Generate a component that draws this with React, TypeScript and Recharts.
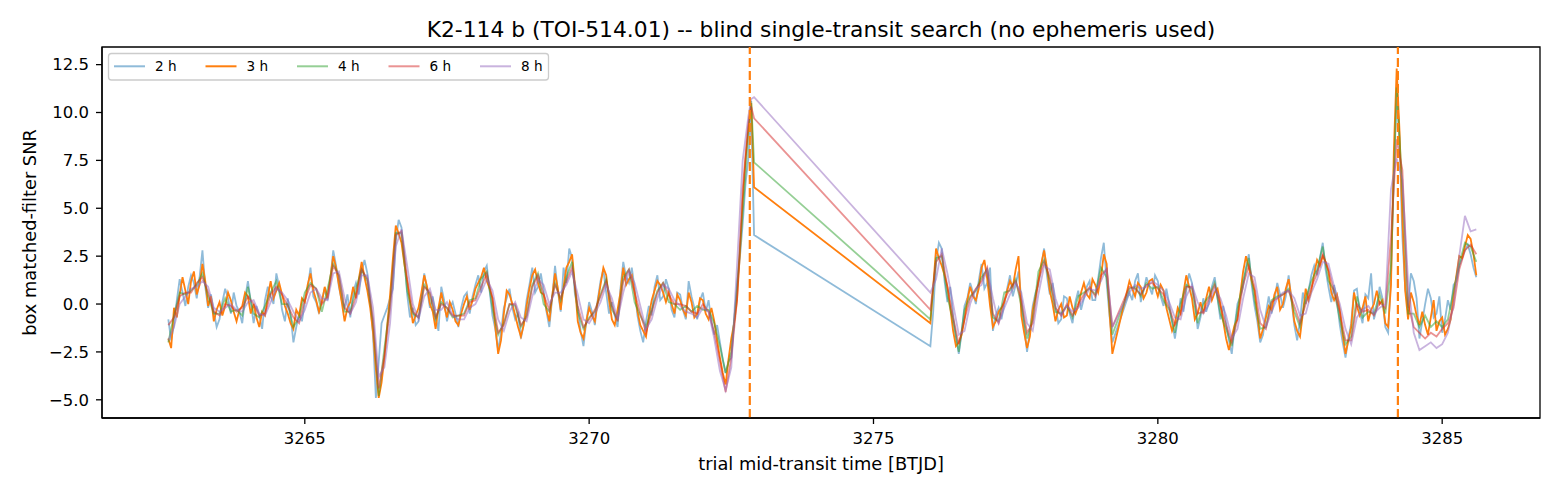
import React from 'react'
import { LineChart, Line, XAxis, YAxis, ReferenceLine, ReferenceArea } from 'recharts'

// 0.1 d grid used by the 4 h, 6 h and 8 h searches (gaps 3272.9-3276.0 and 3279.2-3279.5)
const times = [
  3262.6, 3262.7, 3262.8, 3262.9, 3263.0, 3263.1, 3263.2, 3263.3, 3263.4, 3263.5,
  3263.6, 3263.7, 3263.8, 3263.9, 3264.0, 3264.1, 3264.2, 3264.3, 3264.4, 3264.5,
  3264.6, 3264.7, 3264.8, 3264.9, 3265.0, 3265.1, 3265.2, 3265.3, 3265.4, 3265.5,
  3265.6, 3265.7, 3265.8, 3265.9, 3266.0, 3266.1, 3266.2, 3266.3, 3266.4, 3266.5,
  3266.6, 3266.7, 3266.8, 3266.9, 3267.0, 3267.1, 3267.2, 3267.3, 3267.4, 3267.5,
  3267.6, 3267.7, 3267.8, 3267.9, 3268.0, 3268.1, 3268.2, 3268.3, 3268.4, 3268.5,
  3268.6, 3268.7, 3268.8, 3268.9, 3269.0, 3269.1, 3269.2, 3269.3, 3269.4, 3269.5,
  3269.6, 3269.7, 3269.8, 3269.9, 3270.0, 3270.1, 3270.2, 3270.3, 3270.4, 3270.5,
  3270.6, 3270.7, 3270.8, 3270.9, 3271.0, 3271.1, 3271.2, 3271.3, 3271.4, 3271.5,
  3271.6, 3271.7, 3271.8, 3271.9, 3272.0, 3272.1, 3272.2, 3272.3, 3272.4, 3272.5,
  3272.6, 3272.7, 3272.8, 3272.85, 3272.9,
  3276.0, 3276.1, 3276.2, 3276.3, 3276.4, 3276.5, 3276.6, 3276.7, 3276.8, 3276.9,
  3277.0, 3277.1, 3277.2, 3277.3, 3277.4, 3277.5, 3277.6, 3277.7, 3277.8, 3277.9,
  3278.0, 3278.1, 3278.2, 3278.3, 3278.4, 3278.5, 3278.6, 3278.7, 3278.8, 3278.9,
  3279.0, 3279.1, 3279.2,
  3279.5, 3279.6, 3279.7, 3279.8, 3279.9, 3280.0, 3280.1, 3280.2, 3280.3, 3280.4,
  3280.5, 3280.6, 3280.7, 3280.8, 3280.9, 3281.0, 3281.1, 3281.2, 3281.3, 3281.4,
  3281.5, 3281.6, 3281.7, 3281.8, 3281.9, 3282.0, 3282.1, 3282.2, 3282.3, 3282.4,
  3282.5, 3282.6, 3282.7, 3282.8, 3282.9, 3283.0, 3283.1, 3283.2, 3283.3, 3283.4,
  3283.5, 3283.6, 3283.7, 3283.8, 3283.9, 3284.0, 3284.1, 3284.2, 3284.3, 3284.4,
  3284.5, 3284.6, 3284.7, 3284.8, 3284.9, 3285.0, 3285.1, 3285.2, 3285.3, 3285.4, 3285.5, 3285.6,
]

// 0.05 d grid used by the short (2 h, 3 h) searches
const timesFine = [
  3262.6, 3262.65, 3262.7, 3262.75, 3262.8, 3262.85, 3262.9, 3262.95, 3263.0, 3263.05, 3263.1, 3263.15, 3263.2, 3263.25, 3263.3, 3263.35, 3263.4, 3263.45, 3263.5, 3263.55,
  3263.6, 3263.65, 3263.7, 3263.75, 3263.8, 3263.85, 3263.9, 3263.95, 3264.0, 3264.05, 3264.1, 3264.15, 3264.2, 3264.25, 3264.3, 3264.35, 3264.4, 3264.45, 3264.5, 3264.55,
  3264.6, 3264.65, 3264.7, 3264.75, 3264.8, 3264.85, 3264.9, 3264.95, 3265.0, 3265.05, 3265.1, 3265.15, 3265.2, 3265.25, 3265.3, 3265.35, 3265.4, 3265.45, 3265.5, 3265.55,
  3265.6, 3265.65, 3265.7, 3265.75, 3265.8, 3265.85, 3265.9, 3265.95, 3266.0, 3266.05, 3266.1, 3266.15, 3266.2, 3266.25, 3266.3, 3266.35, 3266.4, 3266.45, 3266.5, 3266.55,
  3266.6, 3266.65, 3266.7, 3266.75, 3266.8, 3266.85, 3266.9, 3266.95, 3267.0, 3267.05, 3267.1, 3267.15, 3267.2, 3267.25, 3267.3, 3267.35, 3267.4, 3267.45, 3267.5, 3267.55,
  3267.6, 3267.65, 3267.7, 3267.75, 3267.8, 3267.85, 3267.9, 3267.95, 3268.0, 3268.05, 3268.1, 3268.15, 3268.2, 3268.25, 3268.3, 3268.35, 3268.4, 3268.45, 3268.5, 3268.55,
  3268.6, 3268.65, 3268.7, 3268.75, 3268.8, 3268.85, 3268.9, 3268.95, 3269.0, 3269.05, 3269.1, 3269.15, 3269.2, 3269.25, 3269.3, 3269.35, 3269.4, 3269.45, 3269.5, 3269.55,
  3269.6, 3269.65, 3269.7, 3269.75, 3269.8, 3269.85, 3269.9, 3269.95, 3270.0, 3270.05, 3270.1, 3270.15, 3270.2, 3270.25, 3270.3, 3270.35, 3270.4, 3270.45, 3270.5, 3270.55,
  3270.6, 3270.65, 3270.7, 3270.75, 3270.8, 3270.85, 3270.9, 3270.95, 3271.0, 3271.05, 3271.1, 3271.15, 3271.2, 3271.25, 3271.3, 3271.35, 3271.4, 3271.45, 3271.5, 3271.55,
  3271.6, 3271.65, 3271.7, 3271.75, 3271.8, 3271.85, 3271.9, 3271.95, 3272.0, 3272.05, 3272.1, 3272.15, 3272.2, 3272.25, 3272.3, 3272.35, 3272.4, 3272.45, 3272.5, 3272.55,
  3272.6, 3272.65, 3272.7, 3272.75, 3272.8, 3272.85, 3272.9,
  3276.0, 3276.05, 3276.1, 3276.15, 3276.2, 3276.25, 3276.3, 3276.35, 3276.4, 3276.45, 3276.5, 3276.55, 3276.6, 3276.65, 3276.7, 3276.75, 3276.8, 3276.85, 3276.9, 3276.95,
  3277.0, 3277.05, 3277.1, 3277.15, 3277.2, 3277.25, 3277.3, 3277.35, 3277.4, 3277.45, 3277.5, 3277.55, 3277.6, 3277.65, 3277.7, 3277.75, 3277.8, 3277.85, 3277.9, 3277.95,
  3278.0, 3278.05, 3278.1, 3278.15, 3278.2, 3278.25, 3278.3, 3278.35, 3278.4, 3278.45, 3278.5, 3278.55, 3278.6, 3278.65, 3278.7, 3278.75, 3278.8, 3278.85, 3278.9, 3278.95,
  3279.0, 3279.05, 3279.1, 3279.15, 3279.2,
  3279.5, 3279.55, 3279.6, 3279.65, 3279.7, 3279.75, 3279.8, 3279.85, 3279.9, 3279.95, 3280.0, 3280.05, 3280.1, 3280.15, 3280.2, 3280.25, 3280.3, 3280.35, 3280.4, 3280.45,
  3280.5, 3280.55, 3280.6, 3280.65, 3280.7, 3280.75, 3280.8, 3280.85, 3280.9, 3280.95, 3281.0, 3281.05, 3281.1, 3281.15, 3281.2, 3281.25, 3281.3, 3281.35, 3281.4, 3281.45,
  3281.5, 3281.55, 3281.6, 3281.65, 3281.7, 3281.75, 3281.8, 3281.85, 3281.9, 3281.95, 3282.0, 3282.05, 3282.1, 3282.15, 3282.2, 3282.25, 3282.3, 3282.35, 3282.4, 3282.45,
  3282.5, 3282.55, 3282.6, 3282.65, 3282.7, 3282.75, 3282.8, 3282.85, 3282.9, 3282.95, 3283.0, 3283.05, 3283.1, 3283.15, 3283.2, 3283.25, 3283.3, 3283.35, 3283.4, 3283.45,
  3283.5, 3283.55, 3283.6, 3283.65, 3283.7, 3283.75, 3283.8, 3283.85, 3283.9, 3283.95, 3284.0, 3284.05, 3284.1, 3284.15, 3284.2, 3284.25, 3284.3, 3284.35, 3284.4, 3284.45,
  3284.5, 3284.55, 3284.6, 3284.65, 3284.7, 3284.75, 3284.8, 3284.85, 3284.9, 3284.95, 3285.0, 3285.05, 3285.1, 3285.15, 3285.2, 3285.25, 3285.3, 3285.35, 3285.4, 3285.45, 3285.5, 3285.55, 3285.6,
]

const snr2h = [
  -0.8, -1.9, -1.1, 0.2, 1.3, 0.6, -0.1, 0.9, 1.5, 1.1, 0.3, 1.4, 2.8, 0.9, -0.2, 0.5, -0.4, -1.2, -0.8, 0.1,
  0.8, 0.3, -0.5, 0.6, -0.1, -0.4, -1.0, 0.3, 1.2, 0.1, -1.0, -0.1, -0.6, -1.3, 0.2, 0.9, 0.4, 0.0, 1.6, 0.9,
  -0.3, -0.9, 0.3, -0.6, -2.0, -1.2, -0.5, -0.9, 0.1, 0.8, 1.9, 0.4, 0.1, -0.5, 0.2, 0.8, 0.2, 1.3, 2.8, 2.0,
  0.9, 0.2, -0.2, 0.5, -0.7, 0.6, 1.1, 0.5, 1.7, 2.3, 1.6, 0.2, -1.6, -4.9, -3.0, -1.0, -0.6, -0.2, 0.3, 0.8,
  3.3, 4.4, 4.0, 2.5, 0.5, -0.7, -0.2, -1.1, -0.9, 0.2, 1.6, 0.8, -0.2, 0.4, -0.6, -1.4, 0.9, 0.2, -0.9, -0.2,
  0.1, -0.5, -1.2, -0.2, 0.4, 0.6, -0.5, 0.4, 1.0, 1.5, 0.6, 1.7, 2.0, 0.7, -0.6, -1.3, -2.4, -1.5, -0.2, 0.3,
  0.8, -0.2, -0.8, -0.5, -1.8, -1.0, 0.2, 1.0, 1.9, 0.6, 0.9, 1.6, 0.7, -0.4, -1.2, 0.3, 2.0, 0.7, -0.4, 1.9,
  1.1, 2.9, 2.4, 0.5, -0.2, -1.4, -2.2, -0.9, 0.1, -0.4, -1.1, 0.2, 1.2, 1.8, 0.6, -0.5, 0.1, -0.6, -1.2, 0.8,
  2.2, 1.4, 1.1, 1.9, 0.8, -0.6, -1.4, -2.0, -0.9, -0.1, -0.6, 0.9, 1.5, 0.2, 0.4, 1.3, 0.8, -0.3, -0.7, 0.6,
  0.5, -0.3, -0.8, 1.2, 0.4, -0.2, -0.8, 0.2, 0.6, -0.4, 0.2, -0.9, -1.6, -1.1, -2.0, -2.9, -3.6, -3.0, -2.8, -0.9,
  1.0, 2.4, 4.2, 6.3, 7.6, 10.0, 3.6,
  -2.2, -0.4, 2.2, 3.2, 2.9, 1.2, 0.1, 0.9, -0.6, -1.7, -2.6, -1.5, -0.1, 0.3, 1.1, 0.6, 0.0, 1.2, 2.1, 0.8,
  1.1, 1.9, -1.4, -0.6, -0.2, -0.8, 0.0, 0.8, 1.5, 0.4, 1.0, 1.7, 0.3, -1.2, -2.5, -1.4, -0.1, 0.6, 1.0, 2.0,
  2.9, 1.5, 0.5, 1.1, -0.1, -1.0, -0.8, 0.4, 0.3, -0.5, -1.0, 0.1, 0.7, -0.3, 0.3, 0.9, 1.2, 0.2, 0.2, 1.3,
  2.4, 3.2, 1.1, -0.6, -2.0,
  0.6, 0.2, 1.2, 1.6, 0.1, 0.7, 1.4, 0.9, 0.5, 1.5, 1.2, 0.4, -0.1, 0.8, 0.0, -0.9, -1.8, -0.8, 0.3, -0.4,
  0.7, 1.6, 1.1, 0.2, -1.3, -0.7, 0.3, -0.4, 0.1, 0.9, 1.4, 0.3, -0.8, -0.1, -1.0, -1.9, -2.6, -1.2, 0.0, 0.4,
  0.9, 1.9, 2.6, 1.0, -0.1, -0.9, -2.0, -1.6, -0.5, 0.4, -0.5, 0.2, 1.1, 0.5, -0.2, 0.4, 1.5, 0.2, -1.1, -1.9,
  -0.9, 0.6, 0.0, 0.7, 1.5, 2.0, 1.5, 2.4, 3.2, 1.8, 0.9, 0.1, 1.0, 0.2, -1.1, -2.0, -2.8, -1.8, -1.0, 0.7,
  0.8, -0.4, -1.0, 0.5, 0.3, 1.6, -0.8, -0.2, 0.9, 0.3, -1.2, -1.5, 1.5, 7.0, 11.0, 8.5, 3.5, 0.8, -0.2, 1.6,
  1.2, 0.3, -1.8, -0.9, 0.0, 0.8, 0.3, -0.7, -0.5, 0.4, -1.5, -0.8, 0.2, -0.3, 1.0, 1.2, 2.0, 2.4, 2.8, 3.1, 2.6, 1.9, 1.4,
]

const snr3h = [
  -1.8, -2.3, -0.2, -0.7, 0.5, 1.4, 0.7, 0.0, 1.2, 1.7, 0.5, 1.0, 2.1, 1.2, -0.1, 0.4, -0.9, -0.3, 0.1, -0.6,
  -0.1, 0.6, 0.2, -0.4, -0.9, -0.3, -0.1, 0.6, 0.4, -0.5, 0.0, -0.7, -1.2, -0.4, -0.6, 0.4, 1.2, 0.3, 0.7, 1.1,
  0.5, -0.1, -0.5, -1.0, -1.3, -0.3, -0.6, 0.3, 0.1, 1.0, 1.6, 0.7, 0.2, -0.4, 0.1, 0.9, 0.3, 1.4, 2.5, 1.9,
  1.0, 0.1, -0.9, -0.2, 0.1, 0.9, 0.3, 1.3, 2.2, 1.4, 0.7, -0.2, -1.5, -3.4, -4.9, -4.1, -2.8, -1.1, 0.5, 2.4,
  4.1, 3.7, 3.2, 2.1, 1.2, 0.1, -1.0, -0.6, -0.2, 0.6, 1.5, 0.9, 0.0, -0.4, -1.3, -0.2, 0.6, -0.1, -0.7, 0.1,
  -0.3, -0.9, -1.1, -0.5, 0.0, 0.4, -0.3, 0.2, 0.8, 1.1, 1.4, 1.9, 1.2, 0.8, 0.3, -1.2, -2.6, -1.9, -0.5, 0.7,
  0.5, 0.0, -0.6, -1.2, -1.7, -1.1, -0.1, 0.8, 1.5, 1.8, 1.1, 0.6, 0.5, -0.3, -0.9, 0.4, 1.6, 0.8, -0.3, 0.9,
  1.9, 2.2, 2.6, 1.0, -0.9, -1.5, -1.8, -0.9, -0.2, -0.6, -0.9, 0.1, 1.0, 1.9, 1.5, 0.2, -0.8, -1.1, -0.3, 0.6,
  1.9, 1.0, 1.3, 1.5, 0.6, -0.4, -1.1, -1.4, -1.7, -0.6, 0.2, 0.7, 1.2, 1.0, 0.6, 0.1, 0.6, 0.0, -0.5, 0.5,
  0.2, -0.3, -0.6, 0.6, 0.1, -0.7, -0.5, 0.3, 0.2, -0.5, -0.8, -0.2, -0.9, -1.9, -2.8, -3.6, -4.2, -2.9, -1.8, -1.0,
  0.2, 2.6, 5.4, 7.6, 9.2, 10.5, 6.1,
  -1.0, 0.9, 2.9, 2.4, 2.0, 1.5, 0.9, -0.2, -1.4, -2.2, -2.0, -1.6, -0.8, 0.2, 0.9, 0.4, 0.2, 0.8, 1.9, 2.3,
  1.3, -0.1, -1.2, -0.9, -0.4, -0.2, 0.1, 0.7, 1.2, 0.9, 1.8, 2.5, -0.6, -1.5, -2.3, -1.7, -0.3, 0.4, 1.2, 2.1,
  2.8, 1.9, 0.7, 0.0, -0.9, -0.3, 0.0, -0.7, -0.6, 0.4, -0.2, -0.5, -0.1, 0.6, 1.1, 0.5, 0.3, 1.3, 1.0, 0.6,
  1.4, 2.6, 2.1, -0.4, -2.6,
  1.2, 0.8, 0.4, 1.1, 0.9, 0.3, 0.6, 1.2, 1.3, 0.9, 0.4, 1.0, 0.7, -0.2, -0.8, -1.4, -1.0, -0.2, -0.5, 0.6,
  1.5, 0.9, 0.3, -0.8, -0.5, 0.1, -0.5, 0.3, 0.9, 0.2, 0.6, 0.8, 0.0, -0.9, -1.8, -2.4, -1.7, -1.1, -0.8, 0.5,
  1.7, 2.5, 1.9, 1.2, 0.7, -0.6, -1.8, -1.3, -0.7, -0.1, -0.3, 0.5, 0.9, -0.3, 0.0, 0.8, 1.3, 0.3, -0.9, -1.4,
  -1.7, -0.5, 0.8, 0.2, 0.7, 1.6, 2.3, 2.0, 2.5, 2.2, 1.7, 0.6, 0.2, 0.5, -0.3, -1.6, -2.6, -1.9, -1.2, 0.6,
  -0.1, -0.6, -0.2, 0.4, -0.9, -0.3, 0.0, 0.7, 0.0, 0.2, -1.0, -1.2, 1.0, 8.0, 12.3, 9.0, 4.5, 0.7, -0.8, 0.6,
  0.1, -0.6, -1.1, -0.4, -1.1, -1.6, -0.7, 0.2, -1.4, -0.9, -0.7, -1.6, -1.3, -0.8, 0.4, 1.5, 2.5, 2.4, 3.0, 3.6, 3.4, 2.6, 1.5,
]

const snr4h = [
  -2.0, -0.6, 0.6, 0.5, 0.7, 1.0, 1.6, 0.4, -0.5, -0.5,
  0.3, -0.4, -0.3, -0.6, 0.9, -0.5, -0.7, -0.1, 0.6, 1.2,
  0.0, 0.0, -1.2, -0.7, 0.6, 1.1, 0.8, -0.4, 0.8, 2.1,
  1.5, -0.4, -0.4, 0.8, 1.8, 1.2, -1.0, -4.8, -2.3, 0.0,
  3.7, 3.7, 0.7, -0.5, -0.7, 1.0, 0.5, -0.8, 0.1, -0.2,
  -0.7, -0.6, -0.5, 0.2, 0.3, 1.3, 1.7, -0.2, -1.6, -1.0,
  0.0, -0.1, -1.2, -0.6, 1.0, 1.6, 0.0, -0.4, 1.1, 0.2,
  1.4, 2.2, -0.4, -1.3, -0.7, -0.4, 0.5, 1.3, -0.3, -0.8,
  1.4, 1.8, 0.1, -0.6, -1.2, -0.3, 0.7, 1.1, 0.1, 0.0,
  -0.3, -0.1, -0.4, -0.1, -0.3, -0.3, -1.0, -2.2, -3.6, -2.5,
  0.8, 4.8, 9.0, 10.6, 7.4,
  -0.8, 2.4, 2.5, 0.4, -0.9, -2.5, -0.3, 0.4, 0.7, 1.4,
  1.8, -0.7, -0.9, 0.6, 0.7, 1.3, -0.1, -1.8, -0.8, 1.7,
  2.3, 1.2, -0.4, -0.5, -0.1, -0.7, 0.4, 0.6, 0.8, 0.5,
  1.9, 1.4, -1.6,
  0.8, 0.9, 0.4, 1.1, 0.8, 0.9, 0.2, -0.3, -1.5, 0.0,
  1.0, 0.8, -1.0, 0.0, 0.4, 1.1, -0.5, -1.3, -2.2, -0.3,
  1.2, 2.4, 0.2, -1.3, -1.2, 0.2, 0.4, 0.5, 0.8, -0.4,
  -1.2, 0.3, 1.2, 1.8, 3.0, 1.2, 0.7, -0.8, -2.1, -1.7,
  0.4, -0.7, -0.4, -0.5, 0.5, -0.5, 2.0, 11.3, 6.0, -0.5,
  -0.5, -1.2, -0.6, -1.2, -0.9, -1.2, -0.8, 0.7, 2.1, 3.2, 3.0, 2.2,
]

const snr6h = [
  -1.1, -0.7, 0.4, 0.6, 0.6, 1.1, 1.4, 0.6, -0.4, -0.6,
  0.0, -0.1, -0.4, -0.2, 0.4, 0.0, -0.6, -0.5, 0.5, 0.9,
  0.5, -0.1, -0.7, -1.0, 0.2, 1.0, 0.8, 0.0, 0.4, 2.0,
  1.5, -0.2, -0.5, 0.4, 1.8, 1.3, -0.8, -4.4, -2.7, -0.2,
  3.6, 3.8, 1.3, -0.4, -0.7, 0.9, 0.6, -0.7, 0.0, -0.2,
  -0.6, -0.6, -0.6, 0.1, 0.2, 0.9, 1.6, 0.3, -1.5, -1.1,
  0.0, 0.0, -1.1, -0.7, 0.9, 1.5, 0.5, -0.3, 1.0, 0.3,
  1.2, 1.9, -0.1, -1.2, -0.8, -0.3, 0.4, 1.2, -0.1, -0.9,
  1.2, 1.8, 0.6, -0.5, -1.5, -0.4, 0.6, 1.1, 0.5, 0.0,
  0.0, -0.1, -0.4, -0.5, 0.0, -0.4, -1.5, -3.0, -4.6, -2.8,
  0.2, 6.0, 9.5, 10.3, 9.7,
  -0.3, 2.2, 2.6, 0.9, -0.7, -2.1, -0.8, 0.3, 0.8, 1.2,
  1.9, -0.5, -1.0, 0.2, 0.8, 1.2, 0.2, -1.5, -1.0, 1.2,
  2.2, 1.4, -0.2, -0.6, 0.0, -0.6, 0.0, 0.5, 0.9, 0.4,
  1.5, 1.8, -1.2,
  0.9, 0.8, 0.5, 1.0, 1.1, 0.8, 0.5, -0.2, -1.1, -0.5,
  0.9, 0.9, -0.5, -0.4, 0.3, 1.0, -0.1, -1.1, -2.0, -0.8,
  1.0, 2.0, 0.9, -1.0, -1.3, 0.1, 0.3, 0.5, 0.7, -0.1,
  -1.0, 0.0, 0.9, 1.6, 2.6, 1.8, 0.6, -0.4, -1.9, -1.9,
  0.0, -0.4, -0.3, -0.6, 0.1, -0.2, 3.5, 8.6, 7.0, 0.0,
  -1.2, -1.5, -1.8, -1.5, -1.7, -1.3, -1.0, -0.2, 1.8, 2.8, 3.1, 2.6,
]

const snr8h = [
  -1.9, -1.2, 0.0, 0.4, 0.8, 0.9, 1.2, 0.9, -0.2, -0.4,
  -0.2, 0.0, -0.3, -0.4, 0.1, 0.2, -0.5, -0.6, 0.1, 0.8,
  0.6, 0.2, -0.4, -0.9, -0.3, 0.6, 0.8, 0.3, 0.2, 1.6,
  1.7, 0.3, -0.5, 0.1, 1.5, 1.5, -0.2, -3.8, -3.3, -1.0,
  3.0, 3.9, 2.0, 0.0, -0.8, 0.4, 0.8, -0.3, -0.3, 0.1,
  -0.6, -0.8, -0.8, -0.2, 0.0, 0.6, 1.3, 0.7, -0.8, -1.4,
  -0.4, 0.1, -0.7, -0.9, 0.4, 1.3, 1.0, 0.0, 0.6, 0.6,
  1.0, 1.7, 0.5, -0.8, -1.0, -0.5, 0.1, 1.0, 0.3, -0.8,
  0.6, 1.7, 1.1, -0.1, -1.3, -0.8, 0.3, 1.0, 0.8, 0.2,
  -0.1, -0.4, -0.5, -0.7, -0.2, -0.4, -1.8, -3.5, -4.5, -3.3,
  2.0, 7.5, 9.8, 10.7, 10.8,
  0.6, 1.3, 2.9, 1.6, 0.0, -1.6, -1.4, 0.0, 0.8, 1.0,
  1.8, 0.3, -1.0, -0.2, 0.5, 1.1, 0.6, -1.0, -1.4, 0.5,
  2.0, 1.8, 0.3, -0.6, -0.1, -0.4, -0.2, 0.3, 0.8, 0.7,
  1.2, 1.9, -1.2,
  0.6, 1.0, 0.8, 0.9, 1.2, 1.0, 0.7, 0.1, -0.7, -0.8,
  0.4, 1.0, 0.1, -0.5, 0.0, 0.8, 0.3, -0.6, -1.8, -1.3,
  0.3, 1.6, 1.4, -0.3, -1.2, -0.4, 0.3, 0.6, 0.7, 0.3,
  -0.6, -0.5, 0.6, 1.3, 2.2, 2.1, 0.9, 0.0, -1.3, -2.1,
  -0.7, -0.3, -0.1, -0.5, -0.2, 0.0, 6.0, 7.6, 6.5, 1.2,
  -1.5, -2.4, -2.2, -2.0, -2.3, -2.1, -1.5, 0.0, 2.5, 4.6, 3.8, 3.9,
]

const durations = ['2 h', '3 h', '4 h', '6 h', '8 h']
const transitTimes = [3272.825, 3284.221]
const xTicks = [3265, 3270, 3275, 3280, 3285]
const yTicks = [-5, -2.5, 0, 2.5, 5, 7.5, 10, 12.5]

const colors = ['#1f77b4', '#ff7f0e', '#2ca02c', '#d62728', '#9467bd']
const opacities = [0.5, 1, 0.5, 0.5, 0.5]

const X_DOMAIN: [number, number] = [3261.434, 3286.72]
const Y_DOMAIN: [number, number] = [-5.95, 13.42]

const FONT = '"DejaVu Sans", Verdana, sans-serif'
const W = 1560
const H = 494
const PLOT_LEFT = 102
const PLOT_TOP = 47
const PLOT_RIGHT = 1540
const PLOT_BOTTOM = 418

const toRows = (ts: number[], vs: number[]) => ts.map((t, i) => ({ t, snr: vs[i] }))

const seriesData = [
  toRows(timesFine, snr2h),
  toRows(timesFine, snr3h),
  toRows(times, snr4h),
  toRows(times, snr6h),
  toRows(times, snr8h),
]

const minus = (s: string) => s.replace('-', '\u2212')

const App: React.FC = () => {
  const midX = (PLOT_LEFT + PLOT_RIGHT) / 2
  const midY = (PLOT_TOP + PLOT_BOTTOM) / 2

  return (
    <div style={{ position: 'absolute', left: 0, top: 0, width: W, height: H, background: '#fff' }}>
      <LineChart
        width={W}
        height={H}
        margin={{ top: PLOT_TOP, right: W - PLOT_RIGHT, bottom: 0, left: 0 }}
      >
        <XAxis
          dataKey="t"
          type="number"
          domain={X_DOMAIN}
          allowDataOverflow
          ticks={xTicks}
          height={H - PLOT_BOTTOM}
          tickSize={6}
          tickMargin={8}
          tick={{ fill: '#000', fontSize: 16.5, fontFamily: FONT }}
          tickLine={{ stroke: '#000', strokeWidth: 1.3 }}
          axisLine={{ stroke: '#000', strokeWidth: 1.3 }}
          tickFormatter={(v: number) => String(v)}
        />
        <YAxis
          type="number"
          domain={Y_DOMAIN}
          allowDataOverflow
          ticks={yTicks}
          width={PLOT_LEFT}
          tickSize={6}
          tickMargin={7}
          tick={{ fill: '#000', fontSize: 16.5, fontFamily: FONT }}
          tickLine={{ stroke: '#000', strokeWidth: 1.3 }}
          axisLine={{ stroke: '#000', strokeWidth: 1.3 }}
          tickFormatter={(v: number) => minus(v.toFixed(1))}
        />
        {seriesData.map((rows, i) => (
          <Line
            key={durations[i]}
            data={rows}
            dataKey="snr"
            name={durations[i]}
            type="linear"
            stroke={colors[i]}
            strokeOpacity={opacities[i]}
            strokeWidth={1.8}
            dot={false}
            activeDot={false}
            isAnimationActive={false}
          />
        ))}
        {transitTimes.map((tt) => (
          <ReferenceLine key={tt} x={tt} stroke="#ff7f0e" strokeWidth={2.2} strokeDasharray="9 4" />
        ))}
        <ReferenceArea
          x1={X_DOMAIN[0]}
          x2={X_DOMAIN[1]}
          y1={Y_DOMAIN[0]}
          y2={Y_DOMAIN[1]}
          fill="none"
          fillOpacity={0}
          stroke="#000"
          strokeWidth={1.3}
          strokeOpacity={1}
        />
      </LineChart>

      {/* Title, axis labels and legend */}
      <svg
        width={W}
        height={H}
        style={{ position: 'absolute', left: 0, top: 0, pointerEvents: 'none' }}
        fontFamily={FONT}
      >
        <text x={midX} y={37} textAnchor="middle" fontSize={21.8} fill="#000">
          K2-114 b (TOI-514.01) -- blind single-transit search (no ephemeris used)
        </text>
        <text x={midX} y={470} textAnchor="middle" fontSize={17.8} fill="#000">
          trial mid-transit time [BTJD]
        </text>
        <text
          x={36}
          y={midY}
          textAnchor="middle"
          fontSize={17.8}
          fill="#000"
          transform={`rotate(-90 36 ${midY})`}
        >
          box matched-filter SNR
        </text>

        <rect x={108.5} y={53.5} width={440} height={26.5} rx={3} fill="#fff" fillOpacity={0.8} stroke="#cccccc" strokeWidth={1.3} />
        {durations.map((label, i) => {
          const x0 = 114 + i * 91.5
          return (
            <g key={label}>
              <line x1={x0} x2={x0 + 31} y1={66.3} y2={66.3} stroke={colors[i]} strokeOpacity={opacities[i]} strokeWidth={2} />
              <text x={x0 + 41} y={71} fontSize={13.6} fill="#000">
                {label}
              </text>
            </g>
          )
        })}
      </svg>
    </div>
  )
}

export default App
